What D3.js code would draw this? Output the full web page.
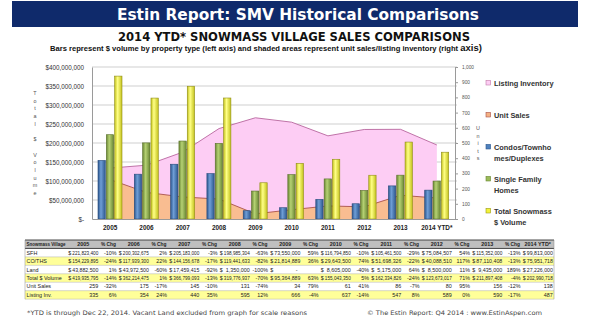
<!DOCTYPE html>
<html>
<head>
<meta charset="utf-8">
<script src="https://cdn.jsdelivr.net/npm/d3@7/dist/d3.min.js"></script>
<style>
  body { margin: 0; background: #fff; }
  svg { display: block; font-family: "Liberation Sans", Arial, sans-serif; }
</style>
</head>
<body>
<script>
// Snowmass Village sales, 2005 - 2014 YTD
const years = ["2005", "2006", "2007", "2008", "2009", "2010", "2011", "2012", "2013", "2014 YTD*"];
const sfhVolume = [221823400, 200302675, 205183000, 198985304, 73550000, 116794850, 105461500, 75084507, 115352000, 99813000];
const condoVolume = [154229895, 117939300, 144156678, 119441633, 21814889, 29643500, 51698326, 40088510, 87110408, 75951718];
const landVolume = [43882500, 43972500, 17459415, 1350000, null, 8605000, 5175000, 8500000, 9435000, 27226000];
const totalVolume = [419935795, 362214475, 366799093, 319776937, 95364889, 155043350, 162334826, 123673017, 211897408, 202990718];
const unitSales = [259, 175, 145, 131, 34, 61, 86, 80, 156, 138];
const listingInventory = [335, 354, 440, 595, 666, 637, 547, 589, 590, 487];

// year-over-year % change columns of the table
const sfhChg = ["-10%", "2%", "-3%", "-63%", "59%", "-10%", "-29%", "54%", "-13%"];
const condoChg = ["-24%", "22%", "-17%", "-82%", "36%", "74%", "-22%", "117%", "-13%"];
const landChg = ["1%", "-60%", "-92%", "-100%", "", "-40%", "64%", "11%", "189%"];
const totalChg = ["-14%", "1%", "-13%", "-70%", "63%", "5%", "-24%", "71%", "-4%"];
const unitChg = ["-32%", "-17%", "-10%", "-74%", "79%", "41%", "-7%", "95%", "-12%"];
const listingChg = ["6%", "24%", "35%", "12%", "-4%", "-14%", "8%", "0%", "-17%"];

const leftTicks = d3.range(0, 400000001, 50000000);
const rightTicks = d3.range(0, 1001, 100);

const W = 590, H = 326;
const svg = d3.select("body").append("svg").attr("width", W).attr("height", H);

// squeeze a text element into maxW if it runs wider
function fit(sel, maxW) {
  const n = sel.node();
  if (n.getComputedTextLength() > maxW) sel.attr("textLength", maxW).attr("lengthAdjust", "spacingAndGlyphs");
  return sel;
}

// header banner
svg.append("rect").attr("x", 12).attr("y", 1).attr("width", 566).attr("height", 26).attr("fill", "#0f2a6b");
svg.append("text").attr("x", 298).attr("y", 20).attr("text-anchor", "middle")
  .attr("fill", "#fff").attr("font-family", "DejaVu Sans").attr("font-weight", "bold")
  .attr("font-size", 16).attr("textLength", 362).attr("lengthAdjust", "spacingAndGlyphs")
  .text("Estin Report: SMV Historical Comparisons");
svg.append("text").attr("x", 294).attr("y", 41).attr("text-anchor", "middle")
  .attr("fill", "#111").attr("font-family", "DejaVu Sans").attr("font-weight", "bold")
  .attr("font-size", 11.5).attr("textLength", 352).attr("lengthAdjust", "spacingAndGlyphs")
  .text("2014 YTD* SNOWMASS VILLAGE SALES COMPARISONS");
const sub = svg.append("text").attr("x", 50).attr("y", 51)
  .attr("fill", "#111").attr("font-weight", "bold").attr("font-size", 7.6);
sub.append("tspan").text("Bars represent $ volume by property type (left axis) and shaded areas represent unit sales/listing inventory (right ");
sub.append("tspan").attr("font-size", 9.5).text("axis)");

// plot geometry
const x0 = 92, x1 = 455, yTop = 67, yBot = 219;
const x = d3.scaleBand().domain(years).range([x0, x1]);
const y = d3.scaleLinear().domain([0, 400000000]).range([yBot, yTop]);
const yR = d3.scaleLinear().domain([0, 1000]).range([yBot, yTop]);

const plot = svg.append("g");

// gridlines
plot.selectAll("line.grid").data(leftTicks.slice(1)).join("line")
  .attr("x1", x0).attr("x2", x1 + 2).attr("y1", d => y(d)).attr("y2", d => y(d))
  .attr("stroke", "#cfcfcf").attr("stroke-width", 1);

// shaded areas on the right axis
const cx = d => x(d) + x.bandwidth() / 2;
const areaOf = vals => d3.area().x((d, i) => cx(years[i])).y0(yBot).y1(d => yR(d))(vals);
const lineOf = vals => d3.line().x((d, i) => cx(years[i])).y(d => yR(d))(vals);

plot.append("path").attr("d", areaOf(listingInventory)).attr("fill", "#fdcdf4");
plot.append("path").attr("d", lineOf(listingInventory)).attr("fill", "none").attr("stroke", "#b8679e").attr("stroke-width", 0.9);
plot.append("path").attr("d", areaOf(unitSales)).attr("fill", "#f9bd91");
plot.append("path").attr("d", lineOf(unitSales)).attr("fill", "none").attr("stroke", "#a9524a").attr("stroke-width", 0.9);

// bars
const series = [
  { key: "condo", values: condoVolume, dark: "#2d5890", light: "#6f9ed6", edge: "#26497a" },
  { key: "sfh", values: sfhVolume, dark: "#6a8734", light: "#b5d173", edge: "#586f2a" },
  { key: "total", values: sfhVolume.map((v, i) => v + condoVolume[i]), dark: "#c3c21c", light: "#ffff86", edge: "#8f8e18" }
];
const defs = svg.append("defs");
series.forEach(s => {
  const g = defs.append("linearGradient").attr("id", "grad-" + s.key).attr("x1", 0).attr("x2", 1).attr("y1", 0).attr("y2", 0);
  g.append("stop").attr("offset", 0).attr("stop-color", s.dark);
  g.append("stop").attr("offset", 0.4).attr("stop-color", s.light);
  g.append("stop").attr("offset", 1).attr("stop-color", s.dark);
});
const xs = d3.scaleBand().domain(series.map(s => s.key)).range([6, 30]).paddingInner(0.12);

series.forEach(s => {
  plot.append("g").selectAll("rect").data(s.values).join("rect")
    .attr("x", (d, i) => x(years[i]) + xs(s.key))
    .attr("width", xs.bandwidth())
    .attr("y", d => y(d))
    .attr("height", d => yBot - y(d))
    .attr("fill", "url(#grad-" + s.key + ")")
    .attr("stroke", s.edge).attr("stroke-width", 0.6);
});

// axes
const axisL = svg.append("g").attr("transform", `translate(${x0},0)`)
  .call(d3.axisLeft(y).tickValues(leftTicks).tickSize(0).tickPadding(8)
    .tickFormat(d => d === 0 ? "$-" : "$" + d3.format(",")(d)));
axisL.select(".domain").attr("stroke", "#9a9a9a");
axisL.selectAll("text").attr("font-size", 6.3).attr("fill", "#333").attr("font-family", "Liberation Sans");

const axisR = svg.append("g").attr("transform", `translate(${x1},0)`)
  .call(d3.axisRight(yR).tickValues(rightTicks).tickSize(3).tickPadding(4));
axisR.selectAll(".domain, line").attr("stroke", "#9a9a9a");
axisR.selectAll("text").attr("font-size", 4.8).attr("fill", "#555");

const axisB = svg.append("g").attr("transform", `translate(0,${yBot})`)
  .call(d3.axisBottom(x).tickSize(0).tickPadding(6));
axisB.select(".domain").attr("stroke", "#9a9a9a");
axisB.selectAll("text").attr("font-size", 6.4).attr("font-weight", "bold").attr("fill", "#222");

// stacked-letter axis titles
const stacked = (str, tx, ty, step) => {
  svg.append("g").selectAll("text").data(str.split("")).join("text")
    .attr("x", tx).attr("y", (d, i) => ty + i * step).attr("text-anchor", "middle")
    .attr("font-size", 5.4).attr("fill", "#555").text(d => d);
};
stacked("Total $ Volume", 35, 95, 7.7);
stacked("Units", 478, 130, 7.6);

// legend
const legend = [
  { lines: ["Listing Inventory"], fill: "#fdcdf4", stroke: "#c07aa8" },
  { lines: ["Unit Sales"], fill: "#f4b183", stroke: "#a9524a" },
  { lines: ["Condos/Townho", "mes/Duplexes"], fill: "#4f81bd", stroke: "#2d5890" },
  { lines: ["Single Family", "Homes"], fill: "#9bbb59", stroke: "#6a8734" },
  { lines: ["Total Snowmass", "$ Volume"], fill: "#f2f23a", stroke: "#9a9a18" }
];
const lg = svg.append("g").attr("transform", "translate(486,0)");
legend.forEach((d, i) => {
  const ly = 84 + i * 32;
  lg.append("rect").attr("x", 0).attr("y", ly - 3.6).attr("width", 4.6).attr("height", 4.6)
    .attr("fill", d.fill).attr("stroke", d.stroke).attr("stroke-width", 0.6);
  d.lines.forEach((t, j) => {
    lg.append("text").attr("x", 8).attr("y", ly + 2.3 + j * 10.8)
      .attr("font-size", 7.4).attr("font-weight", "bold").attr("fill", "#333").text(t);
  });
});

// data table
const tX = 25, tY = 240, rowH = 8.45, labW = 42, valW = 32.5, pctW = 18;
const cols = [];
let cxp = tX + labW;
years.forEach((yr, i) => {
  cols.push({ type: "val", x: cxp, w: valW, head: yr });
  cxp += valW;
  if (i < years.length - 1) { cols.push({ type: "pct", x: cxp, w: pctW, head: "% Chg" }); cxp += pctW; }
});
const tW = cxp - tX;

const fmt = d3.format(",");
const rows = [
  { label: "SFH", vals: sfhVolume, chg: sfhChg, money: true, bg: "#fff" },
  { label: "CO/THS", vals: condoVolume, chg: condoChg, money: true, bg: "#ffff99" },
  { label: "Land", vals: landVolume, chg: landChg, money: true, bg: "#fff" },
  { label: "Total $ Volume", vals: totalVolume, chg: totalChg, money: true, bg: "#ffff99" },
  { label: "Unit Sales", vals: unitSales, chg: unitChg, money: false, bg: "#fff" },
  { label: "Listing Inv.", vals: listingInventory, chg: listingChg, money: false, bg: "#ffff99" }
];

const tbl = svg.append("g");
tbl.append("rect").attr("x", tX).attr("y", tY).attr("width", tW).attr("height", rowH).attr("fill", "#bfbfbf");
rows.forEach((r, ri) => {
  const ry = tY + rowH * (ri + 1);
  tbl.append("rect").attr("x", tX).attr("y", ry).attr("width", tW).attr("height", rowH).attr("fill", r.bg);
});
// row rules
d3.range(rows.length + 2).forEach(i => {
  const ly = tY + i * rowH;
  tbl.append("line").attr("x1", tX).attr("x2", tX + tW).attr("y1", ly).attr("y2", ly)
    .attr("stroke", i <= 1 ? "#333" : "#b0b0b0").attr("stroke-width", i <= 1 ? 0.9 : 0.5);
});
tbl.append("line").attr("x1", tX).attr("x2", tX).attr("y1", tY).attr("y2", tY + rowH * 7).attr("stroke", "#888").attr("stroke-width", 0.5);
tbl.append("line").attr("x1", tX + tW).attr("x2", tX + tW).attr("y1", tY).attr("y2", tY + rowH * 7).attr("stroke", "#888").attr("stroke-width", 0.5);

const fs = 5.4;
const txt = (s, tx, ty, anchor, bold, maxW) => fit(tbl.append("text").attr("x", tx).attr("y", ty)
  .attr("text-anchor", anchor).attr("font-size", fs).attr("font-weight", bold ? "bold" : "normal")
  .attr("fill", "#222").text(s), maxW);

txt("Snowmass Village", tX + 1.5, tY + rowH - 2.3, "start", true, labW - 3);
cols.forEach(c => txt(c.head, c.x + c.w / 2, tY + rowH - 2.3, "middle", true, c.w - 3));

rows.forEach((r, ri) => {
  const by = tY + rowH * (ri + 2) - 2.3;
  txt(r.label, tX + 1.5, by, "start", false, labW - 3);
  let vi = 0, pi = 0;
  cols.forEach(c => {
    if (c.type === "val") {
      const v = r.vals[vi++];
      if (r.money) txt("$", c.x + 1.2, by, "start", false, 4);
      txt(v == null ? "-" : fmt(v), c.x + c.w - (v == null ? 4 : 1.2), by, "end", false, c.w - 6.5);
    } else {
      txt(r.chg[pi++], c.x + c.w - 1, by, "end", false, c.w - 2.5);
    }
  });
});

// footer notes
svg.append("text").attr("x", 27).attr("y", 315).attr("font-family", "DejaVu Sans").attr("font-size", 6.2)
  .attr("fill", "#444").attr("textLength", 280).attr("lengthAdjust", "spacingAndGlyphs")
  .text("*YTD is through Dec 22, 2014. Vacant Land excluded from graph for scale reasons");
svg.append("text").attr("x", 367).attr("y", 315).attr("font-family", "DejaVu Sans").attr("font-size", 6.2)
  .attr("fill", "#444").attr("textLength", 175).attr("lengthAdjust", "spacingAndGlyphs")
  .text("\u00a9 The Estin Report: Q4 2014 : www.EstinAspen.com");
</script>
</body>
</html>
